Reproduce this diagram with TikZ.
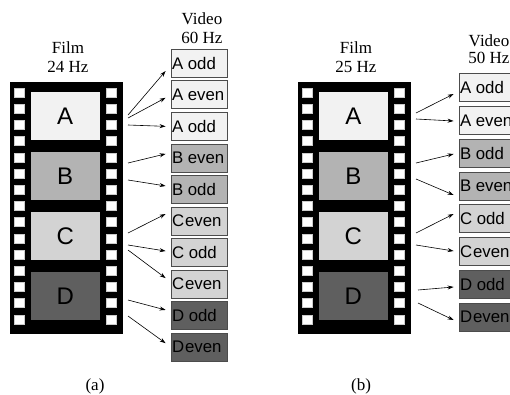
\documentclass[tikz,border=0pt]{standalone}
\usepackage{fontspec}
\setmainfont{Liberation Serif}
\setsansfont{Liberation Sans}
\usetikzlibrary{calc,arrows.meta}
\definecolor{fA}{HTML}{F2F2F2}
\definecolor{fB}{HTML}{B3B3B3}
\definecolor{fC}{HTML}{D3D3D3}
\definecolor{fD}{HTML}{5F5F5F}
\newcommand{\vtxt}[1]{\makebox[54pt][l]{#1}}
\newcommand{\tight}[1]{{\spaceskip=1pt\relax #1}}
\tikzset{
  filmstrip/.style={fill=black, draw=none, minimum width=113pt, minimum height=252pt, inner sep=0pt},
  frame/.style={draw=none, minimum width=69.5pt, minimum height=48pt, inner sep=0pt, font=\fontsize{24}{24}\selectfont\sffamily},
  hole/.style={fill=white, draw=black!20, line width=0.3pt},
  lbl/.style={align=center, inner sep=0pt, font=\fontsize{17}{19}\selectfont\rmfamily},
  vbox/.style={draw=black!70, line width=0.8pt, minimum height=28pt, minimum width=56pt, inner xsep=1pt, inner ysep=0pt, font=\fontsize{16.8}{17}\selectfont\sffamily},
  arr/.style={line width=0.6pt, -{Stealth[length=6pt,width=4pt]}},
  sublbl/.style={inner sep=0pt, font=\fontsize{17}{19}\selectfont\rmfamily}
}
\begin{document}
\begin{tikzpicture}[x=1pt,y=-1pt]
\useasboundingbox (0,0) rectangle (510,394);
\clip (0,0) rectangle (510,394);

% ---------- panel (a) ----------
\node[filmstrip] (filmA) at (66,208) {};
\foreach \k in {0,...,14} {
  \draw[hole] (14,{88+16.2*\k}) rectangle +(10,9);
  \draw[hole] (106,{88+16.2*\k}) rectangle +(10,9);
}
\node[frame, fill=fA] (aA) at (65.25,116) {A};
\node[frame, fill=fB] (aB) at (65.25,176) {B};
\node[frame, fill=fC] (aC) at (65.25,236) {C};
\node[frame, fill=fD] (aD) at (65.25,296) {D};

\node[lbl] (filmlblA) at (68,57.5) {Film\\24 Hz};
\node[lbl] (vidlblA) at (202,28) {Video\\60 Hz};

\foreach \t/\c [count=\i] in {A odd/fA, A even/fA, A odd/fA, B even/fB, B odd/fB, {\tight{C even}}/fC, C odd/fC, {\tight{C even}}/fC, D odd/fD, {\tight{D even}}/fD}
  \node[vbox, fill=\c] (va\i) at (199,{63.25+31.55*(\i-1)}) {\vtxt{\t}};

\foreach \i/\sy/\dy in {1/115/7.75, 2/118/3, 3/125/0, 4/163/-4, 5/180/-3.5, 6/233/-7, 7/245/-1.5, 8/250/-6, 9/300/-5.7, 10/316/-4} {
  \coordinate (sa\i) at (128,\sy);
  \draw[arr] (sa\i) -- ($(va\i.west)+(-5,\dy)$);
}

\node[sublbl] (capA) at (95,386) {(a)};

% ---------- panel (b) ----------
\begin{scope}[shift={(288,0)}]
\node[filmstrip] (filmB) at (66,208) {};
\foreach \k in {0,...,14} {
  \draw[hole] (14,{88+16.2*\k}) rectangle +(10,9);
  \draw[hole] (106,{88+16.2*\k}) rectangle +(10,9);
}
\node[frame, fill=fA] (bA) at (65.25,116) {A};
\node[frame, fill=fB] (bB) at (65.25,176) {B};
\node[frame, fill=fC] (bC) at (65.25,236) {C};
\node[frame, fill=fD] (bD) at (65.25,296) {D};
\node[lbl] (filmlblB) at (68,57.5) {Film\\25 Hz};
\end{scope}

\node[lbl] (vidlblB) at (489,49) {Video\\[-2pt]50 Hz};

\foreach \t/\c [count=\i] in {A odd/fA, A even/fA, B odd/fB, B even/fB, C odd/fC, {\tight{C even}}/fC, D odd/fD, {\tight{D even}}/fD}
  \node[vbox, fill=\c] (vb\i) at (487,{87.5+32.8*(\i-1)}) {\vtxt{\t}};

\foreach \i/\sx/\sy/\dy in {1/416/113/6.5, 2/416/119/0.7, 3/416/163/0.9, 4/416/179/9.1, 5/416/233/-4.7, 6/416/245/-0.5, 7/418/290/2.7, 8/418/303/2.9} {
  \coordinate (sb\i) at (\sx,\sy);
  \draw[arr] (sb\i) -- ($(vb\i.west)+(-5,\dy)$);
}

\node[sublbl] (capB) at (361,386) {(b)};
\end{tikzpicture}
\end{document}
